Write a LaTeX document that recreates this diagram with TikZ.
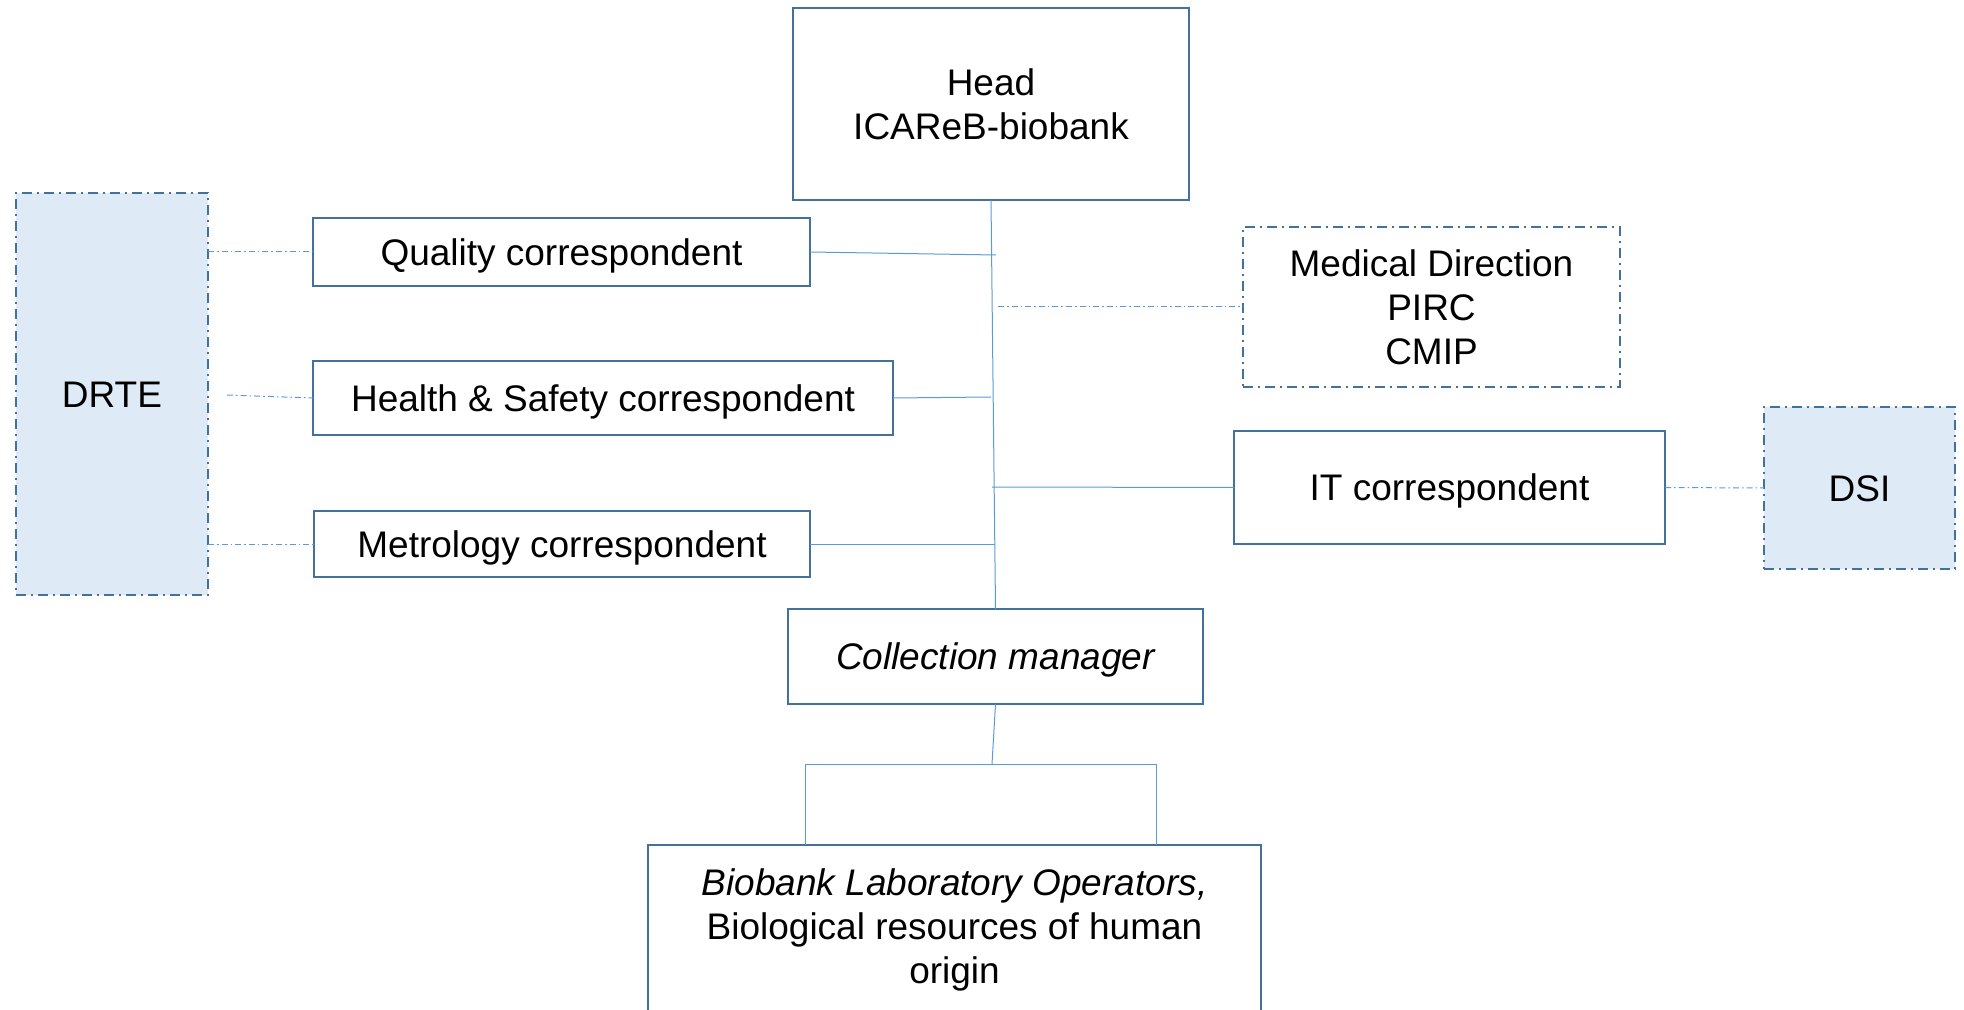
\documentclass[tikz,border=0pt]{standalone}
\usepackage{fontspec}
\setmainfont{Liberation Sans}
\definecolor{boxblue}{HTML}{41719C}
\definecolor{linkblue}{HTML}{5B9BD5}
\definecolor{fillblue}{HTML}{DEEBF7}
\tikzset{
  orgbox/.style={draw=boxblue, line width=1pt, fill=white, inner sep=0pt, outer sep=0pt,
    align=center, font=\fontsize{18.5}{22}\selectfont, text=black},
  oneline/.style={text height=13.25pt, text depth=0pt},
  extbox/.style={orgbox, dash pattern=on 5pt off 2.5pt on 1pt off 2.5pt},
  extfill/.style={extbox, fill=fillblue},
  link/.style={draw=linkblue, line width=0.5pt},
  dlink/.style={draw=linkblue, line width=0.5pt, dash pattern=on 3pt off 1.5pt on 0.8pt off 1.5pt}
}
\begin{document}
\begin{tikzpicture}[x=0.5pt, y=-0.5pt]
\useasboundingbox (0,0) rectangle (1964,1010);
% nodes
\node[orgbox, minimum width=198pt, minimum height=96pt] (head) at (991,104) {Head\\ICAReB-biobank};
\node[extfill, oneline, minimum width=96pt, minimum height=201pt] (drte) at (112,394) {DRTE};
\node[orgbox, oneline, minimum width=248.5pt, minimum height=34pt] (qual) at (561.5,252) {Quality correspondent};
\node[orgbox, oneline, minimum width=290pt, minimum height=37pt] (hs) at (603,398) {Health \& Safety correspondent};
\node[orgbox, oneline, minimum width=248pt, minimum height=33pt] (met) at (562,544) {Metrology correspondent};
\node[extbox, minimum width=188.5pt, minimum height=80pt] (med) at (1431.5,307) {Medical Direction\\PIRC\\CMIP};
\node[orgbox, oneline, minimum width=215.5pt, minimum height=56.5pt] (it) at (1449.5,487.5) {IT correspondent};
\node[extfill, oneline, minimum width=95.5pt, minimum height=81pt] (dsi) at (1859.5,488) {DSI};
\node[orgbox, oneline, minimum width=207.5pt, minimum height=47.5pt] (coll) at (995.5,656.5) {\itshape Collection manager};
\node[orgbox, draw=none, minimum width=306.5pt, minimum height=85pt, anchor=north] (bio) at (954.5,845)
  {\itshape Biobank Laboratory Operators,\\Biological resources of human\\origin};
\draw[draw=boxblue, line width=1pt] (bio.south west) -- (bio.north west) -- (bio.north east) -- (bio.south east);
% junction coordinates
\coordinate (jq) at (996,255);
\coordinate (jh) at (991,397);
\coordinate (jm) at (995,544);
\coordinate (jit) at (992,487);
\coordinate (jmd) at (998,307);
\coordinate (dh) at (227,395);
\coordinate (jb) at (992,764);
\coordinate (jl) at (805,764);
\coordinate (jr) at (1156,764);
% connectors
\draw[link] (head.south) -- (coll.north);
\draw[link] (qual.east) -- (jq);
\draw[link] (hs.east) -- (jh);
\draw[link] (met.east) -- (jm);
\draw[link] (jit) -- (it.west);
\draw[dlink] (jmd) -- (med.west);
\draw[dlink] (drte.east |- qual.west) -- (qual.west);
\draw[dlink] (dh) -- (hs.west);
\draw[dlink] (drte.east |- met.west) -- (met.west);
\draw[dlink] (it.east) -- (dsi.west);
\draw[link] (coll.south) -- (jb);
\draw[link] (jl) -- (jr);
\draw[link] (jl) -- (jl |- bio.north);
\draw[link] (jr) -- (jr |- bio.north);
\end{tikzpicture}
\end{document}
